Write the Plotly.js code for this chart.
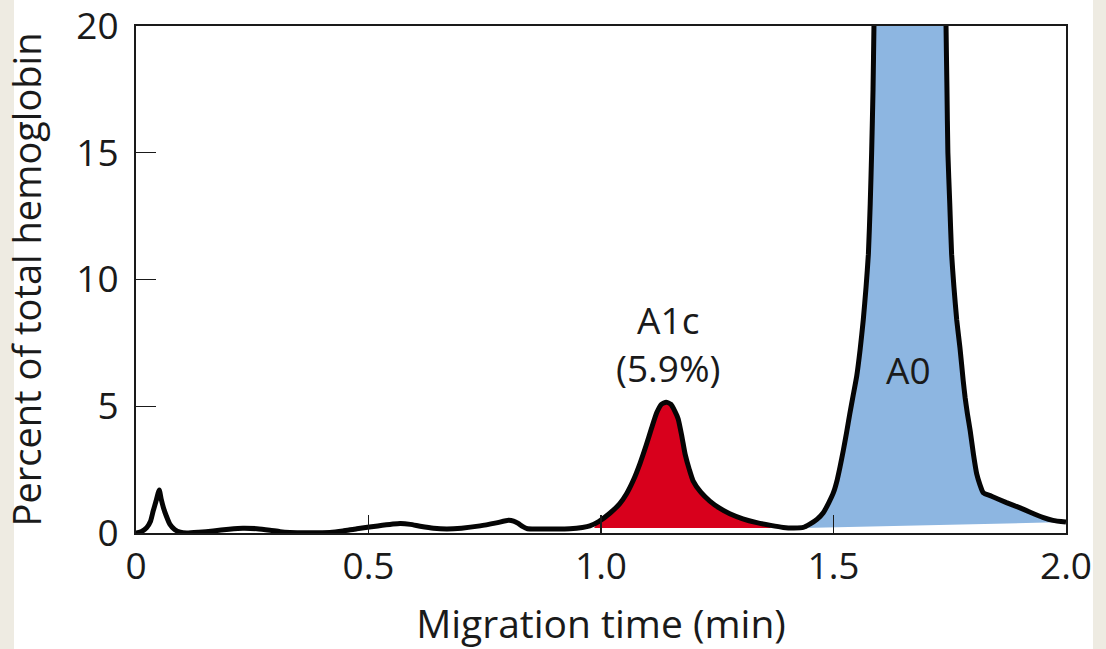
<!DOCTYPE html>
<html>
<head>
<meta charset="utf-8">
<script src="https://cdn.plot.ly/plotly-3.0.1.min.js"></script>
<style>
  html, body { margin: 0; padding: 0; background: #eeebe2; width: 1106px; height: 649px; overflow: hidden; }
  #sheet { position: absolute; left: 14px; top: 0; width: 1079px; height: 649px; background: #ffffff; }
  #chart { position: absolute; left: 0; top: 0; width: 1093px; height: 649px; }
</style>
</head>
<body>
<div id="sheet"></div>
<div id="chart"></div>
<script>
// Migration time (min)
const curveX = [0.000, 0.012, 0.023, 0.031, 0.037, 0.043, 0.050, 0.054, 0.059, 0.065, 0.073, 0.083, 0.095, 0.109,
  0.135, 0.166, 0.200, 0.230, 0.260, 0.288, 0.310, 0.331, 0.370, 0.417, 0.445, 0.475, 0.520, 0.568, 0.590, 0.611,
  0.640, 0.668, 0.700, 0.740, 0.775, 0.801, 0.812, 0.822, 0.832, 0.842, 0.860, 0.900, 0.933, 0.960, 0.976,
  0.995, 1.019, 1.040, 1.055, 1.070, 1.084, 1.097, 1.109, 1.120, 1.130, 1.140, 1.150, 1.159, 1.166, 1.174, 1.181,
  1.190, 1.198, 1.215, 1.234, 1.255, 1.277, 1.305, 1.335, 1.365, 1.392, 1.415, 1.435, 1.449, 1.465, 1.478, 1.490,
  1.500, 1.508, 1.514, 1.521, 1.528, 1.535, 1.542, 1.550, 1.557, 1.564, 1.570, 1.575, 1.579, 1.582, 1.585, 1.587,
  1.592, 1.665, 1.738, 1.742, 1.744, 1.746, 1.750, 1.754, 1.759, 1.765, 1.772, 1.779, 1.783, 1.788, 1.794, 1.801,
  1.808, 1.815, 1.822, 1.840, 1.872, 1.900, 1.923, 1.950, 1.972, 2.000];
// Percent of total hemoglobin
const curveY = [0.00, 0.06, 0.21, 0.45, 0.87, 1.25, 1.70, 1.35, 1.00, 0.68, 0.34, 0.14, 0.03, 0.00,
  0.03, 0.08, 0.15, 0.19, 0.17, 0.11, 0.05, 0.02, 0.01, 0.02, 0.08, 0.17, 0.28, 0.37, 0.34, 0.27,
  0.19, 0.16, 0.19, 0.28, 0.40, 0.50, 0.47, 0.38, 0.25, 0.17, 0.16, 0.16, 0.17, 0.22, 0.28,
  0.45, 0.78, 1.15, 1.55, 2.10, 2.75, 3.45, 4.15, 4.75, 5.08, 5.16, 5.08, 4.80, 4.50, 3.80, 3.10,
  2.50, 2.06, 1.60, 1.26, 0.98, 0.76, 0.56, 0.41, 0.30, 0.22, 0.20, 0.22, 0.35, 0.55, 0.80, 1.20,
  1.60, 2.10, 2.60, 3.25, 3.95, 4.70, 5.40, 6.20, 7.20, 8.40, 9.70, 11.0, 13.0, 15.0, 17.5, 20.0,
  26.0, 60.0, 26.0, 20.0, 17.5, 15.0, 13.0, 11.0, 9.70, 8.40, 7.30, 6.00, 5.35, 4.70, 4.03, 3.10,
  2.33, 1.90, 1.59, 1.45, 1.20, 1.00, 0.82, 0.62, 0.50, 0.43];

// Integration limits and baselines of the two labelled peaks
const a1cLimits = [0.985, 1.365];
const a1cBase = [0.20, 0.20];
const a0Limits = [1.435, 2.000];
const a0Base = [0.20, 0.43];

const xTickVals = [0, 0.5, 1.0, 1.5, 2.0];
const xTickText = ["0", "0.5", "1.0", "1.5", "2.0"];
const yTickVals = [0, 5, 10, 15, 20];
const yTickText = ["0", "5", "10", "15", "20"];

const peakLabels = ["A1c<br>(5.9%)", "A0"];
const peakLabelX = [1.145, 1.662];
const peakLabelY = [7.47, 6.44];

function peakPolygon(limits, base) {
  const xs = [], ys = [];
  for (let i = 0; i < curveX.length; i++) {
    if (curveX[i] >= limits[0] && curveX[i] <= limits[1]) { xs.push(curveX[i]); ys.push(curveY[i]); }
  }
  xs.push(limits[1]); ys.push(base[1]);
  xs.push(limits[0]); ys.push(base[0]);
  return {x: xs, y: ys};
}

const red = peakPolygon(a1cLimits, a1cBase);
const blue = peakPolygon(a0Limits, a0Base);

const FONT = '"Open Sans", "Noto Sans", sans-serif';
const INK = '#1a1a1a';

const traces = [
  {x: red.x, y: red.y, type: 'scatter', mode: 'lines', fill: 'toself', fillcolor: '#d8001c',
   line: {width: 0, color: 'rgba(0,0,0,0)'}, hoverinfo: 'skip', showlegend: false},
  {x: blue.x, y: blue.y, type: 'scatter', mode: 'lines', fill: 'toself', fillcolor: '#8db6e1',
   line: {width: 0, color: 'rgba(0,0,0,0)'}, hoverinfo: 'skip', showlegend: false},
  {x: curveX, y: curveY, type: 'scatter', mode: 'lines',
   line: {color: '#050505', width: 5, shape: 'spline', smoothing: 0.5}, showlegend: false}
];

const layout = {
  width: 1093, height: 649,
  margin: {l: 136, r: 27, t: 26, b: 116},
  paper_bgcolor: 'rgba(0,0,0,0)', plot_bgcolor: '#ffffff',
  font: {family: FONT, size: 37, color: INK},
  showlegend: false,
  xaxis: {
    range: [0, 2], tickvals: xTickVals, ticktext: xTickText,
    showgrid: false, zeroline: false, showline: true, mirror: true,
    linecolor: INK, linewidth: 2,
    ticks: 'inside', ticklen: 18, tickwidth: 1.3, tickcolor: INK,
    ticklabelstandoff: 0, ticklabeloverflow: 'allow',
    tickfont: {family: FONT, size: 37, color: INK},
    title: {text: 'Migration time (min)', font: {family: FONT, size: 39, color: INK}, standoff: 24}
  },
  yaxis: {
    range: [0, 20], tickvals: yTickVals, ticktext: yTickText,
    showgrid: false, zeroline: false, showline: true, mirror: true,
    linecolor: INK, linewidth: 2,
    ticks: 'inside', ticklen: 20, tickwidth: 1.3, tickcolor: INK,
    ticklabelstandoff: 8, ticklabeloverflow: 'allow',
    tickfont: {family: FONT, size: 37, color: INK},
    title: {text: 'Percent of total hemoglobin', font: {family: FONT, size: 38, color: INK}, standoff: 28}
  },
  annotations: peakLabels.map((t, i) => ({
    x: peakLabelX[i], y: peakLabelY[i], xref: 'x', yref: 'y', text: t, showarrow: false,
    font: {family: FONT, size: 37, color: INK}, align: 'center'
  }))
};

Plotly.newPlot('chart', traces, layout, {displayModeBar: false, staticPlot: true});
</script>
</body>
</html>
